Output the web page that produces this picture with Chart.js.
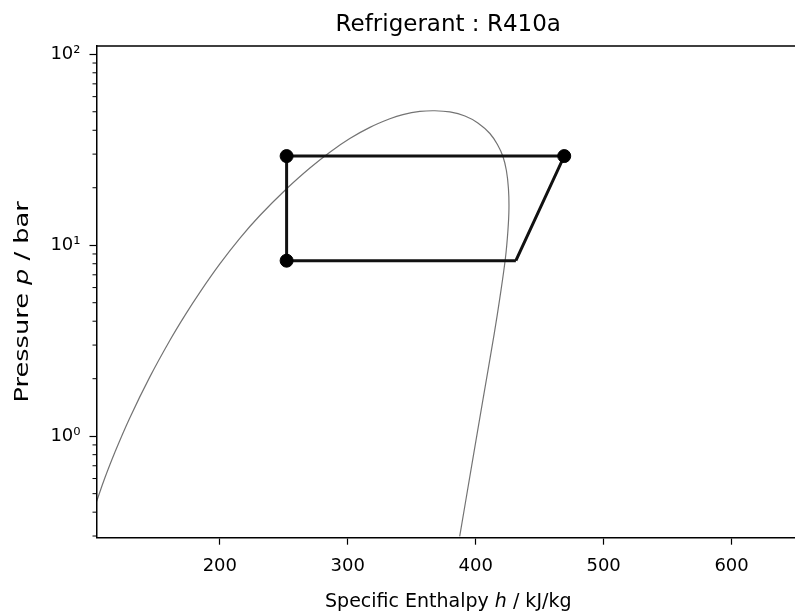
<!DOCTYPE html>
<html>
<head>
<meta charset="utf-8">
<script src="https://cdn.jsdelivr.net/npm/chart.js@4.4.0/dist/chart.umd.min.js"></script>
<style>
  html, body { margin: 0; padding: 0; background: #fff; overflow: hidden; }
  #caixa { width: 810px; height: 615px; }
</style>
</head>
<body>
<div id="caixa"><canvas id="grafico" width="810" height="615"></canvas></div>
<script>
// saturation dome (liquid line up to the critical point, then vapour line down)
const domeH = [103.6, 110.1, 117.9, 129.6, 145.3, 160.9, 172.6, 184.4, 200.0, 215.6, 231.3, 252.4,
  270.4, 286.0, 301.6, 317.3, 332.9, 343.1, 356.4, 368.1, 379.8, 391.6, 401.7, 411.1, 417.4,
  421.3, 424.0, 425.6, 426.0, 425.2, 423.2, 418.8, 414.5, 405.8, 397.8, 387.5];
const domeP = [0.454, 0.604, 0.822, 1.246, 2.044, 3.171, 4.281, 5.666, 7.98, 10.87, 14.31, 19.82,
  25.38, 30.72, 36.20, 41.42, 45.95, 48.34, 50.19, 50.61, 49.88, 47.53, 43.69, 38.48, 33.30,
  29.16, 24.63, 19.82, 15.57, 11.94, 8.517, 5.256, 3.446, 1.573, 0.763, 0.2987];

// refrigeration cycle
const cicloH = [431.4, 469.2, 252.2, 252.2, 431.4];
const cicloP = [8.3, 29.3, 29.3, 8.3, 8.3];
const pontosH = [469.2, 252.2, 252.2];
const pontosP = [29.3, 29.3, 8.3];

const xTicks = [200, 300, 400, 500, 600];
const yTicks = [1, 10, 100];
const yTickLabels = ["10⁰", "10¹", "10²"];
const yMinorTicks = [0.3, 0.4, 0.5, 0.6, 0.7, 0.8, 0.9, 2, 3, 4, 5, 6, 7, 8, 9,
  20, 30, 40, 50, 60, 70, 80, 90];

const fonte = "'DejaVu Sans', 'Liberation Sans', sans-serif";

const molduraPlugin = {
  id: "moldura",
  afterDraw(chart) {
    const { ctx, chartArea } = chart;
    const y = chart.scales.y;
    ctx.save();
    ctx.strokeStyle = "#000";
    ctx.lineWidth = 1.5;
    // top and right spines
    ctx.beginPath();
    ctx.moveTo(chartArea.left, chartArea.top);
    ctx.lineTo(chartArea.right, chartArea.top);
    ctx.lineTo(chartArea.right, chartArea.bottom);
    ctx.stroke();
    // minor ticks on the log axis
    ctx.lineWidth = 1;
    yMinorTicks.forEach((v) => {
      const py = y.getPixelForValue(v);
      if (py < chartArea.top || py > chartArea.bottom) return;
      ctx.beginPath();
      ctx.moveTo(chartArea.left - 4, py);
      ctx.lineTo(chartArea.left, py);
      ctx.stroke();
    });

    // axis labels with italic symbols
    ctx.fillStyle = "#000";
    ctx.textBaseline = "alphabetic";
    const partesX = [["Specific Enthalpy ", ""], ["h", "italic "], [" / kJ/kg", ""]];
    const tamX = 19;
    let largura = 0;
    partesX.forEach(([t, s]) => { ctx.font = s + tamX + "px " + fonte; largura += ctx.measureText(t).width; });
    let px = (chartArea.left + chartArea.right) / 2 - largura / 2;
    partesX.forEach(([t, s]) => {
      ctx.font = s + tamX + "px " + fonte;
      ctx.fillText(t, px, 607);
      px += ctx.measureText(t).width;
    });

    const partesY = [["Pressure ", ""], ["p", "italic "], [" / bar", ""]];
    const tamY = 19;
    largura = 0;
    partesY.forEach(([t, s]) => { ctx.font = s + tamY + "px " + fonte; largura += ctx.measureText(t).width; });
    ctx.translate(28, (chartArea.top + chartArea.bottom) / 2 + 10);
    ctx.rotate(-Math.PI / 2);
    ctx.scale(1.35, 1);
    px = -largura / 2;
    partesY.forEach(([t, s]) => {
      ctx.font = s + tamY + "px " + fonte;
      ctx.fillText(t, px, 0);
      px += ctx.measureText(t).width;
    });
    ctx.restore();
  },
};

const grafico = document.getElementById("grafico").getContext("2d");

const meuGrafico = new Chart(grafico, {
  type: "line",
  data: {
    datasets: [
      {
        label: "pontos",
        type: "scatter",
        data: pontosH.map((h, i) => ({ x: h, y: pontosP[i] })),
        backgroundColor: "#000",
        borderColor: "#000",
        pointRadius: 6.5,
        pointHoverRadius: 6.5,
        order: 1,
      },
      {
        label: "ciclo",
        data: cicloH.map((h, i) => ({ x: h, y: cicloP[i] })),
        borderColor: "#111",
        borderWidth: 3,
        pointRadius: 0,
        tension: 0,
        fill: false,
        order: 2,
      },
      {
        label: "domo",
        data: domeH.map((h, i) => ({ x: h, y: domeP[i] })),
        borderColor: "rgba(0,0,0,0.55)",
        borderWidth: 1.2,
        pointRadius: 0,
        tension: 0.4,
        fill: false,
        order: 3,
      },
    ],
  },
  options: {
    responsive: false,
    animation: false,
    layout: { padding: { left: 0, right: 10, top: 0, bottom: 0 } },
    plugins: {
      legend: { display: false },
      tooltip: { enabled: false },
      title: {
        display: true,
        text: "Refrigerant : R410a",
        fullSize: false,
        color: "#000",
        font: { family: fonte, size: 23, weight: "normal", lineHeight: 1.2 },
        padding: { top: 11, bottom: 7.4 },
      },
    },
    scales: {
      x: {
        type: "linear",
        min: 103.6,
        max: 653.5,
        afterBuildTicks: (axis) => { axis.ticks = xTicks.map((v) => ({ value: v })); },
        afterFit: (scale) => { scale.height = 77.3; },
        grid: { drawOnChartArea: false, tickLength: 7, color: "#000", tickWidth: 1.2 },
        border: { color: "#000", width: 1.5 },
        ticks: { color: "#000", autoSkip: false, maxRotation: 0, padding: 11, font: { family: fonte, size: 18 } },
      },
      y: {
        type: "logarithmic",
        min: 0.294,
        max: 110.5,
        afterBuildTicks: (axis) => { axis.ticks = yTicks.map((v) => ({ value: v, major: true })); },
        afterFit: (scale) => { scale.width = 96.5; },
        grid: { drawOnChartArea: false, tickLength: 7, color: "#000", tickWidth: 1.2 },
        border: { color: "#000", width: 1.5 },
        ticks: {
          color: "#000",
          autoSkip: false,
          padding: 9,
          font: { family: fonte, size: 18 },
          callback: (v, i) => yTickLabels[i],
        },
      },
    },
  },
  plugins: [molduraPlugin],
});
</script>
</body>
</html>
